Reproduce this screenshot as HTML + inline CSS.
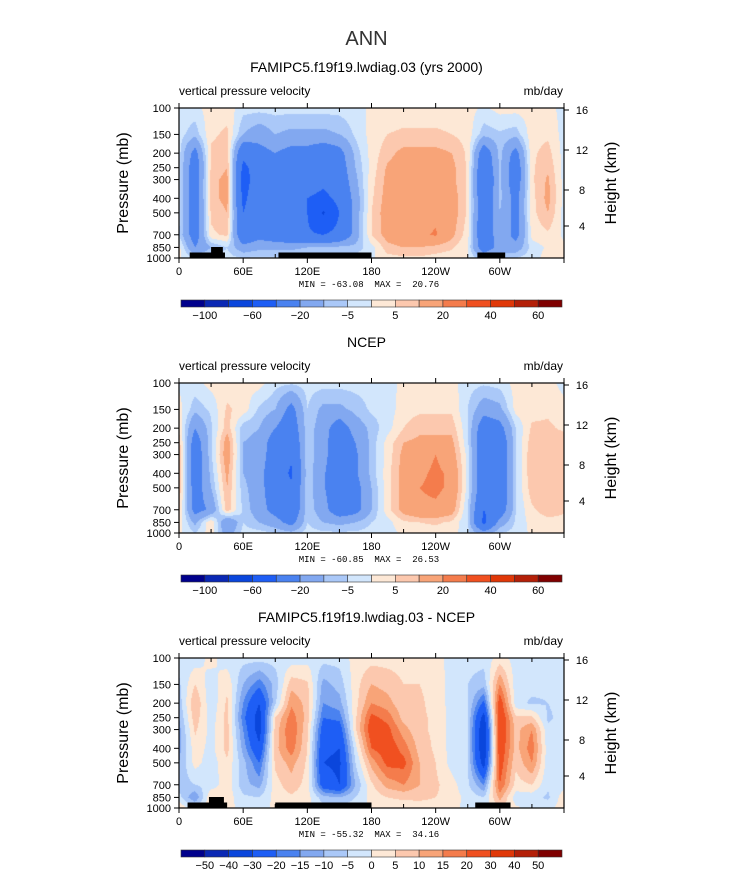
<!DOCTYPE html>
<html><head><meta charset="utf-8"><style>
body{margin:0;background:#fff;width:733px;height:888px;overflow:hidden;position:relative;font-family:"Liberation Sans",sans-serif}
canvas{position:absolute}
svg{position:absolute;left:0;top:0}
</style></head><body>
<canvas id="c0" width="385" height="150" style="left:179px;top:108px"></canvas>
<canvas id="c1" width="385" height="150" style="left:179px;top:383px"></canvas>
<canvas id="c2" width="385" height="150" style="left:179px;top:658px"></canvas>
<svg id="s" width="733" height="888"></svg>
<script>
const lons=[0,15,30,45,60,75,90,105,120,135,150,165,180,195,210,225,240,255,270,285,300,315,330,345,360];
const levels=[100,150,200,250,300,400,500,700,850,1000];
const model=[
[-2,-2,3,3,-3,-3,-3,-3,-3,-3,-3,-2,1,2,2,2,2,2,2,-1,2,2,2,2,-2],
[-3,-8,4,6,-10,-15,-10,-12,-12,-12,-10,-4,2,5,6,6,6,5,3,-8,-6,-8,3,4,-2],
[-3,-25,6,8,-35,-25,-20,-25,-25,-30,-25,-8,2,8,12,12,12,10,4,-30,-8,-25,4,7,-2],
[-3,-30,6,10,-45,-30,-22,-30,-30,-35,-28,-10,2,11,14,14,14,12,4,-35,-8,-30,4,9,-2],
[-3,-30,8,12,-48,-30,-25,-35,-30,-35,-30,-12,3,12,15,15,15,12,4,-40,-8,-30,4,11,-2],
[-3,-30,8,12,-45,-25,-30,-35,-40,-45,-35,-15,4,13,15,16,18,14,4,-35,-8,-25,3,12,-2],
[-3,-30,6,10,-40,-25,-30,-35,-40,-62,-40,-15,5,14,15,16,18,14,4,-35,-10,-25,3,10,-2],
[-5,-28,4,6,-35,-25,-30,-35,-38,-40,-35,-15,5,13,16,18,21,12,2,-35,-10,-25,2,4,-1],
[2,-20,-10,-5,-15,-12,-12,-12,-10,-10,-8,-8,-2,8,10,10,8,6,0,-30,-15,-15,-3,1,1],
[1,-5,-3,-3,-5,-4,-4,-4,-3,-3,-3,-3,-1,3,4,4,3,2,0,-10,-5,-5,-2,2,1]];
const ncep=[
[-1,-2,2,2,2,2,-3,-4,-3,-3,-3,-3,-3,-3,2,2,2,2,-3,-4,-3,2,2,2,-2],
[2,-8,-4,6,3,-6,-10,-25,-5,-12,-12,-8,-4,-3,3,4,4,4,-5,-15,-12,2,3,4,2],
[4,-20,-6,8,-8,-10,-20,-30,-6,-15,-28,-15,-8,-2,5,8,8,8,-4,-30,-25,-5,6,6,4],
[8,-28,-6,14,-10,-12,-28,-35,-6,-15,-32,-20,-8,2,10,12,12,12,-4,-32,-32,-5,8,8,8],
[10,-30,-6,15,-10,-12,-30,-38,-6,-15,-33,-22,-8,2,12,15,20,14,-2,-32,-32,-5,9,10,9],
[10,-30,-8,12,-10,-15,-32,-42,-6,-18,-35,-22,-8,3,13,18,22,18,-2,-32,-33,-5,9,10,10],
[9,-28,-10,10,-8,-15,-30,-38,-6,-18,-35,-25,-10,3,13,20,22,18,-2,-32,-33,-5,8,9,9],
[6,-25,-18,8,-6,-15,-25,-35,-6,-15,-30,-25,-10,3,13,18,18,14,-5,-40,-30,-5,4,8,6],
[3,-12,5,-20,-5,-10,-15,-25,-5,-10,-12,-10,-5,-2,4,5,6,4,-5,-45,-15,-4,2,3,3],
[1,-5,3,-15,-3,-3,-5,-8,-3,-4,-4,-4,-3,-2,1,2,2,2,-3,-15,-5,-3,1,1,1]];
const diff=[
[-3,-3,2,-3,-3,-3,-3,-3,-2,-3,-3,2,3,3,3,3,2,-2,-3,-3,2,-2,-3,-3,-3],
[-6,5,-3,4,-10,-18,-8,8,6,-12,-8,3,10,8,5,5,3,-2,-5,-8,15,-3,-3,-4,-3],
[-8,10,-4,6,-15,-30,-6,14,8,-15,-12,3,15,12,6,6,3,-2,-5,-22,25,-3,-6,-5,-3],
[-10,8,-3,7,-18,-35,5,18,8,-20,-18,4,22,18,8,6,4,-2,-5,-35,28,6,6,-6,-3],
[-12,6,-2,7,-15,-35,7,20,6,-25,-25,4,25,22,12,6,4,-2,-5,-40,28,8,15,-4,-3],
[-12,3,-2,7,-12,-28,8,18,5,-28,-30,-2,20,24,18,8,4,-2,-5,-40,26,8,18,-3,-3],
[-10,2,-3,4,-8,-20,6,12,4,-30,-32,-5,12,22,22,10,5,-2,-5,-35,24,6,15,-3,-3],
[-8,-5,-3,3,-8,-12,3,8,3,-25,-30,-10,4,12,15,10,6,2,-4,-15,20,3,5,-4,-2],
[-3,-15,5,3,-4,-5,2,4,2,-8,-10,-5,2,5,6,6,5,3,-2,-5,12,-3,-3,-6,3],
[4,-3,3,2,-2,-2,1,2,1,-3,-3,-2,1,2,2,3,3,2,-2,-3,5,1,-2,-2,3]];
const boundsAbs=[-100,-80,-60,-40,-20,-10,-5,0,5,10,20,30,40,50,60];
const boundsDiff=[-50,-40,-30,-20,-15,-10,-5,0,5,10,15,20,30,40,50];
const labelsAbs=["-100","","-60","","-20","","-5","","5","","20","","40","","60"];
const labelsDiff=["-50","-40","-30","-20","-15","-10","-5","0","5","10","15","20","30","40","50"];
const colors=["#00008c","#0a28b4","#0a46dc","#1e5ef5","#4a82f0","#82a8f0","#aac8f8","#d2e6fc","#fde8d6","#fcc8ae","#f8a478","#f47c4c","#f05020","#e03808","#b42008","#800000"];
const xTicks=[0,60,120,180,240,300];const xLabels=["0","60E","120E","180","120W","60W"];
const pTicks=[100,150,200,250,300,400,500,700,850,1000];
const hTicks=[16,12,8,4];const hPix=[2,42,82,118];
const land=[[10,43,0],[30,41,1],[93,180,0],[279,305,0]];
const landDiff=[[8,45,0],[28,42,1],[90,180,0],[277,310,0]];
const X0=179,W=385,H=150;
const xs=l=>X0+l/360*W;
const yp=p=>Math.log10(p/100)*H;
function hex(c){return[parseInt(c.substr(1,2),16),parseInt(c.substr(3,2),16),parseInt(c.substr(5,2),16)]}
const rgb=colors.map(hex);
const lp=levels.map(p=>Math.log10(p/100));
function draw(id,data,b){
 const cv=document.getElementById(id),ctx=cv.getContext('2d'),im=ctx.createImageData(W,H);
 for(let y=0;y<H;y++){const t=(y+.5)/H;let r=0;while(r<levels.length-2&&lp[r+1]<t)r++;
  const fy=Math.min(1,Math.max(0,(t-lp[r])/(lp[r+1]-lp[r])));
  for(let x=0;x<W;x++){const lo=(x+.5)/W*360;let c=Math.min(lons.length-2,Math.floor(lo/15));const fx=(lo-lons[c])/15;
   const v=(data[r][c]*(1-fx)+data[r][c+1]*fx)*(1-fy)+(data[r+1][c]*(1-fx)+data[r+1][c+1]*fx)*fy;
   let k=0;while(k<b.length&&v>b[k])k++;const q=rgb[k],i=(y*W+x)*4;im.data[i]=q[0];im.data[i+1]=q[1];im.data[i+2]=q[2];im.data[i+3]=255;}}
 ctx.putImageData(im,0,0);
}
draw('c0',model,boundsAbs);draw('c1',ncep,boundsAbs);draw('c2',diff,boundsDiff);
const S=document.getElementById('s');const NS='http://www.w3.org/2000/svg';
function el(tag,a,txt){const e=document.createElementNS(NS,tag);for(const k in a)e.setAttribute(k,a[k]);if(txt!==undefined)e.textContent=txt;S.appendChild(e);return e}
function txt(x,y,s,size,anchor,name,extra){const e=el('text',Object.assign({x:x,y:y,'font-size':size,'text-anchor':anchor||'start',fill:'#000','font-family':'Liberation Sans, sans-serif'},extra||{}),s);
 
 return e}
txt(366.5,45,'ANN',20,'middle','main-title',{fill:'#333'});
const panels=[{top:108,title:'FAMIPC5.f19f19.lwdiag.03 (yrs 2000)',mm:'MIN = -63.08  MAX =  20.76',b:labelsAbs,ld:land,lbl:'vertical pressure velocity'},
{top:383,title:'NCEP',mm:'MIN = -60.85  MAX =  26.53',b:labelsAbs,ld:null,lbl:'vertical pressure velocity'},
{top:658,title:'FAMIPC5.f19f19.lwdiag.03 - NCEP',mm:'MIN = -55.32  MAX =  34.16',b:labelsDiff,ld:landDiff,lbl:'vertical pressure velocity'}];
panels.forEach((P,pi)=>{const T=P.top;
 txt(366.5,T-36,P.title,14,'middle','panel-title-'+pi);
 txt(179,T-13,P.lbl,12,'start','variable-label-'+pi);
 txt(563,T-13,'mb/day',12,'end','units-label-'+pi);
 if(P.ld)P.ld.forEach(([a,b2,hi],i)=>{const r=el('rect',{x:xs(a),y:T+H-(hi?11:5.5),width:xs(b2)-xs(a),height:hi?11:5.5,fill:'#000'});
  
  });
 const fr=el('rect',{x:X0,y:T,width:W,height:H,fill:'none',stroke:'#000','stroke-width':1.2});
 
 
 for(let l=0;l<=360;l+=30){const x=xs(l),maj=l%60===0;
  el('line',{x1:x,x2:x,y1:T+H,y2:T+H+(maj?5:-4),stroke:'#000'});el('line',{x1:x,x2:x,y1:T,y2:T-(maj?5:-4),stroke:'#000'});}
 xTicks.forEach((l,i)=>txt(xs(l),T+H+17,xLabels[i],11,'middle','x-tick-label'));
 pTicks.forEach(p=>{const y=T+yp(p);el('line',{x1:X0-5,x2:X0,y1:y,y2:y,stroke:'#000'});txt(X0-8,y+4,String(p),11,'end','y-tick-label');});
 hTicks.forEach((h,i)=>{const y=T+hPix[i];el('line',{x1:X0+W,x2:X0+W+5,y1:y,y2:y,stroke:'#000'});txt(X0+W+18,y+4,String(h),11,'middle','height-tick-label');});
 txt(128,T+75,'Pressure (mb)',16,'middle','y-axis-title',{transform:'rotate(-90 128 '+(T+75)+')'});
 txt(616,T+75,'Height (km)',16,'middle','right-axis-title',{transform:'rotate(-90 616 '+(T+75)+')'});
 txt(369,T+H+29,P.mm,9,'middle','min-max-label',{'font-family':'Liberation Mono, monospace','xml:space':'preserve',style:'white-space:pre'});
 const cy=T+H+42,cx=181,cw=381/16;
 colors.forEach((c,i)=>{const r=el('rect',{x:cx+i*cw,y:cy,width:cw,height:7,fill:c,stroke:'#333','stroke-width':0.6});
  
  });
 P.b.forEach((s,i)=>{if(s)txt(cx+(i+1)*cw,cy+19,s.replace('-','\u2212'),11,'middle','colorbar-label');});
});
</script>
</body></html>
